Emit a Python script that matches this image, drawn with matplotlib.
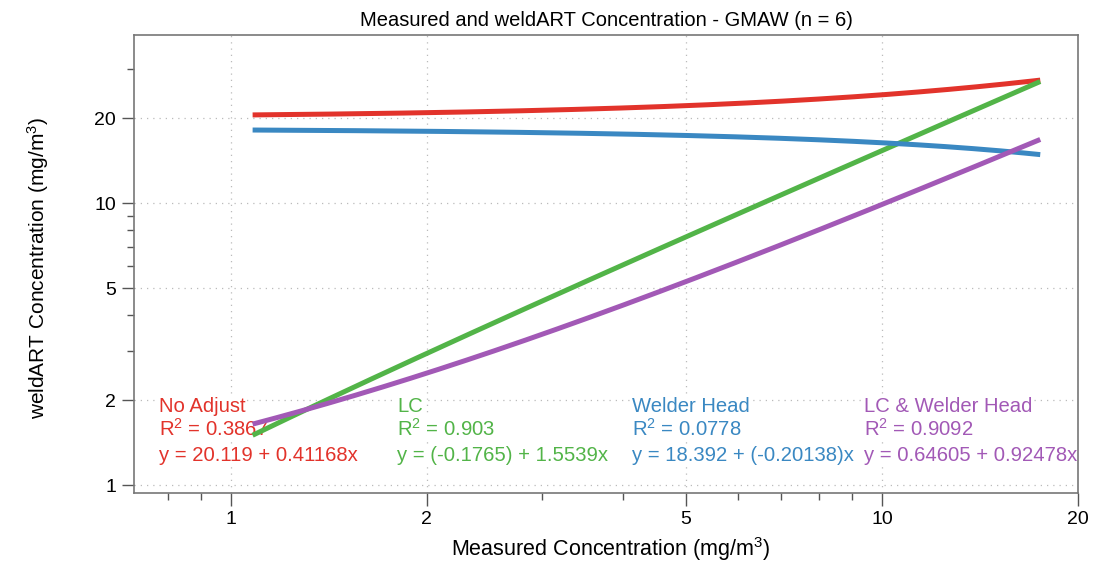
import numpy as np
import matplotlib
matplotlib.use("Agg")
import matplotlib.pyplot as plt
from matplotlib.ticker import FixedLocator, FixedFormatter, NullFormatter

plt.rcParams['font.family'] = ['Liberation Sans', 'DejaVu Sans']
plt.rcParams['mathtext.fontset'] = 'custom'
plt.rcParams['mathtext.rm'] = 'Liberation Sans'
plt.rcParams['mathtext.default'] = 'regular'

# ---- data ----
series_names = ["No Adjust", "LC", "Welder Head", "LC & Welder Head"]
intercepts = [20.119, -0.1765, 18.392, 0.64605]
slopes = [0.41168, 1.5539, -0.20138, 0.92478]
r_squared = ["0.3867", "0.903", "0.0778", "0.9092"]
eq_labels = ["y = 20.119 + 0.41168x", "y = (-0.1765) + 1.5539x",
             "y = 18.392 + (-0.20138)x", "y = 0.64605 + 0.92478x"]
measured_range = [1.08, 17.5]   # min / max measured concentration

x_major = [1, 2, 5, 10, 20]
x_minor = [0.8, 0.9, 3, 4, 6, 7, 8, 9]
y_major = [1, 2, 5, 10, 20]
y_minor = [3, 4, 6, 7, 8, 9, 30]

colors = ["#E2332B", "#52B448", "#3A88C2", "#A259B6"]
text_x = [0.026, 0.279, 0.5275, 0.773]

fig = plt.figure(figsize=(10.99, 5.64), dpi=100)
ax = fig.add_axes([134/1099, 1-493/564, 944/1099, 458/564])
ax.set_xscale('log')
ax.set_yscale('log')
ax.set_xlim(0.71, 20)
ax.set_ylim(0.937, 39.5)

xs = np.geomspace(measured_range[0], measured_range[1], 200)
for a, b, c in zip(intercepts, slopes, colors):
    ax.plot(xs, a + b * xs, color=c, lw=3.6, solid_capstyle='butt', zorder=3)

ax.xaxis.set_major_locator(FixedLocator(x_major))
ax.xaxis.set_major_formatter(FixedFormatter([str(v) for v in x_major]))
ax.xaxis.set_minor_locator(FixedLocator(x_minor))
ax.xaxis.set_minor_formatter(NullFormatter())
ax.yaxis.set_major_locator(FixedLocator(y_major))
ax.yaxis.set_major_formatter(FixedFormatter([str(v) for v in y_major]))
ax.yaxis.set_minor_locator(FixedLocator(y_minor))
ax.yaxis.set_minor_formatter(NullFormatter())

ax.tick_params(which='major', direction='out', length=9, width=1, color='#555555',
               labelsize=14, pad=4)
ax.tick_params(which='minor', direction='out', length=5, width=1, color='#555555')
for s in ax.spines.values():
    s.set_color('#777777')
    s.set_linewidth(1.2)

ax.set_axisbelow(True)
ax.grid(which='major', linestyle=(0, (1, 4)), color='#bbbbbb', lw=0.9)

line_y = [412, 436, 461]
for i in range(4):
    texts = [series_names[i], "R$^{2}$ = " + r_squared[i], eq_labels[i]]
    for t, py in zip(texts, line_y):
        ax.text(text_x[i], (493 - py) / 458, t, transform=ax.transAxes,
                color=colors[i], fontsize=14.6, va='baseline', ha='left', zorder=2.5,
                bbox=dict(facecolor='white', edgecolor='none', pad=0.5))

fig.text(606/1099, 1-20/564, "Measured and weldART Concentration - GMAW (n = 6)",
         ha='center', va='center', fontsize=14.5)
fig.text(611/1099, 1-549/564, "Measured Concentration (mg/m$^{3}$)",
         ha='center', va='center', fontsize=15.5)
fig.text(38/1099, 1-268/564, "weldART Concentration (mg/m$^{3}$)",
         ha='center', va='center', rotation=90, fontsize=15)

fig.savefig("out.png", dpi=100)
